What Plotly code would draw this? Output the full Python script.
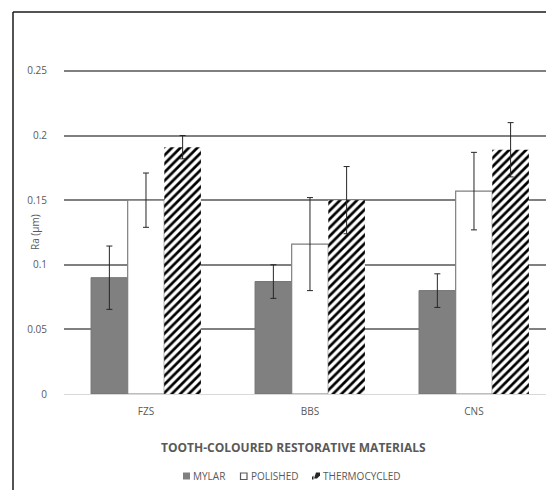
import plotly.graph_objects as go

categories = ["FZS", "BBS", "CNS"]
mylar = [0.090, 0.087, 0.080]
mylar_err = [0.0245, 0.013, 0.013]
polished = [0.150, 0.116, 0.157]
polished_err = [0.021, 0.036, 0.030]
thermo = [0.191, 0.150, 0.189]
thermo_err = [0.009, 0.026, 0.021]
y_ticks = [0, 0.05, 0.1, 0.15, 0.2, 0.25]
y_tick_text = ["0", "0.05", "0.1", "0.15", "0.2", "0.25"]
series_names = ["MYLAR", "POLISHED", "THERMOCYCLED"]

font_family = "Open Sans, Liberation Sans, sans-serif"
text_col = "#595959"
err_col = "#262626"

def eb(vals):
    return dict(type="data", array=vals, visible=True, color=err_col, thickness=1, width=3)

fig = go.Figure()
fig.add_trace(go.Bar(
    name=series_names[0], x=categories, y=mylar, error_y=eb(mylar_err),
    marker=dict(color="#808080", line=dict(color="#737373", width=1)),
))
fig.add_trace(go.Bar(
    name=series_names[1], x=categories, y=polished, error_y=eb(polished_err),
    marker=dict(color="#ffffff", line=dict(color="#7f7f7f", width=1.2)),
))
fig.add_trace(go.Bar(
    name=series_names[2], x=categories, y=thermo, error_y=eb(thermo_err),
    marker=dict(color="#ffffff", line=dict(width=0),
                pattern=dict(shape="/", fgcolor="#000000", bgcolor="#ffffff",
                             size=6, solidity=0.45, fillmode="replace")),
))

# page has an 8px body margin: figure starts at page (8, 8)
OFF = 8
W, H = 554 - OFF, 490 - OFF
PLOT_LEFT, PLOT_TOP, PLOT_BOTTOM = 64, 69, 394   # page pixels
L, T, B = PLOT_LEFT - OFF, PLOT_TOP - OFF, H - (PLOT_BOTTOM - OFF)
plot_h = H - T - B
plot_w = W - L

def px_x(px):
    return (px - OFF - L) / plot_w

def px_y(py):
    return (H - B - (py - OFF)) / plot_h

leg_y = 476
annotations = [
    dict(text="Ra (µm)", xref="paper", yref="paper",
         x=px_x(35), y=px_y(232), textangle=-90, showarrow=False,
         font=dict(size=10, color=text_col), xanchor="center", yanchor="middle"),
    dict(text="<b>TOOTH-COLOURED RESTORATIVE MATERIALS</b>", xref="paper", yref="paper",
         x=px_x(293), y=px_y(447), showarrow=False,
         font=dict(size=12, color=text_col), xanchor="center", yanchor="middle"),
]
for name, tx in zip(series_names, [191, 249, 321]):
    annotations.append(dict(text=name, xref="paper", yref="paper", x=px_x(tx), y=px_y(leg_y),
                            showarrow=False, xanchor="left", yanchor="middle",
                            font=dict(size=10, color=text_col)))

shapes = [
    dict(type="line", xref="paper", yref="paper",
         x0=px_x(13), x1=px_x(13), y0=px_y(12), y1=px_y(500),
         line=dict(color="#1a1a1a", width=1.5)),
    dict(type="line", xref="paper", yref="paper",
         x0=px_x(13), x1=px_x(560), y0=px_y(12), y1=px_y(12),
         line=dict(color="#1a1a1a", width=1.5)),
    dict(type="rect", xref="paper", yref="paper",
         x0=px_x(183), x1=px_x(190), y0=px_y(479.5), y1=px_y(472.5),
         fillcolor="#808080", line=dict(width=0)),
    dict(type="rect", xref="paper", yref="paper",
         x0=px_x(240.5), x1=px_x(247), y0=px_y(479.5), y1=px_y(473),
         fillcolor="#ffffff", line=dict(color="#595959", width=1.2)),
    dict(type="path", xref="paper", yref="paper",
         path=(f"M{px_x(316)},{px_y(472.5)} L{px_x(320)},{px_y(472.5)} L{px_x(320)},{px_y(475.5)} "
               f"L{px_x(317)},{px_y(478.5)} L{px_x(314)},{px_y(478.5)} Z"),
         fillcolor="#262626", line=dict(width=0)),
    dict(type="path", xref="paper", yref="paper",
         path=(f"M{px_x(312)},{px_y(477)} L{px_x(313.5)},{px_y(475.5)} L{px_x(313.5)},{px_y(479.5)} "
               f"L{px_x(312)},{px_y(479.5)} Z"),
         fillcolor="#262626", line=dict(width=0)),
]

fig.update_layout(
    width=W, height=H,
    margin=dict(l=L, r=0, t=T, b=B, pad=0, autoexpand=False),
    paper_bgcolor="white", plot_bgcolor="white",
    barmode="group", bargap=0.33, bargroupgap=0,
    font=dict(family=font_family, size=10, color=text_col),
    showlegend=False,
    xaxis=dict(range=[-0.5, 2.488], showgrid=False, showline=True,
               linecolor="#d9d9d9", linewidth=1, ticks="", ticklabelstandoff=8,
               tickfont=dict(size=10, color=text_col)),
    yaxis=dict(range=[0, 0.2515], tickvals=y_ticks, ticktext=y_tick_text,
               showgrid=True, gridcolor="#808080", gridwidth=1.5,
               zeroline=False, showline=False, ticks="",
               ticklabelstandoff=16, tickfont=dict(size=10, color=text_col)),
    annotations=annotations,
    shapes=shapes,
)

fig.write_html("out.html")
